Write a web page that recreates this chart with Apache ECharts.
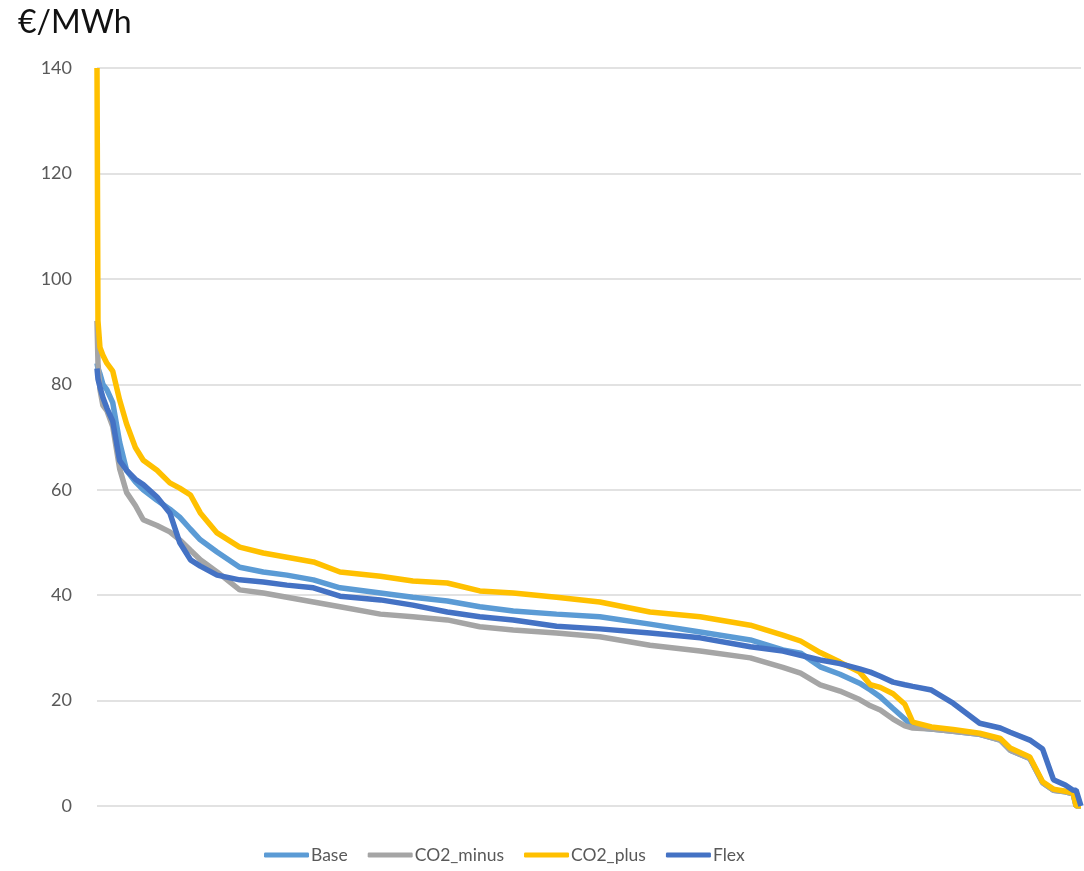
<!DOCTYPE html>
<html>
<head>
<meta charset="utf-8">
<script src="https://cdn.jsdelivr.net/npm/echarts@6/dist/echarts.min.js"></script>
<style>html,body{margin:0;padding:0;background:#fff}#c{width:1084px;height:871px}</style>
</head>
<body>
<div id="c"></div>
<script>
// Share of hours (%), sorted by price (duration curve)
const duration = [0,0.1,0.3,0.6,1.0,1.6,2.3,3.0,3.9,4.7,6.1,7.4,8.4,9.5,10.5,12.2,14.5,16.9,19.3,22.0,24.7,28.8,32.1,35.6,38.9,42.3,46.7,51.1,56.2,61.3,66.4,69.7,71.5,73.5,75.5,77.5,78.6,79.6,80.9,82.1,82.9,84.8,87.0,89.7,91.8,92.8,94.8,96.1,97.2,98.4,99.2,99.5,100];
const seriesNames = ['Base','CO2_minus','CO2_plus','Flex'];
const base = [84,83,82,80,79,76.5,69,63.7,61.5,60,58,56.3,54.8,52.5,50.5,48.2,45.3,44.4,43.8,42.9,41.4,40.4,39.6,38.9,37.8,37,36.4,35.9,34.5,33,31.5,29.6,29,26.4,25,23.3,22,20.7,18.5,16.5,15,14.6,14.2,13.6,12.5,10.6,9,4.4,3,2.7,2.3,0,0];
const co2Minus = [92,84,79,76,75,72,64,59.5,57,54.3,53.2,52,50.5,48.5,46.7,44.4,41,40.4,39.6,38.7,37.8,36.4,35.9,35.3,34,33.4,32.8,32.1,30.5,29.4,28.1,26.3,25.2,23,21.8,20.2,19,18.2,16.5,15.2,14.8,14.6,14.2,13.6,12.5,10.6,9,4.4,3,2.7,2.3,0,0];
const co2Plus = [140,92,87,85.5,84,82.5,77,72.5,68,65.6,63.7,61.3,60.3,59,55.6,51.8,49.1,48,47.2,46.3,44.4,43.6,42.7,42.3,40.8,40.4,39.6,38.7,36.8,35.9,34.3,32.4,31.3,29.1,27.3,25.4,23,22.5,21.3,19.3,15.9,15,14.5,13.8,12.8,11,9.3,4.6,3.2,2.8,2.5,0,0];
const flex = [83,81,79.5,77.5,75.5,73,65.5,63.7,62,61,58.6,55.6,50,46.7,45.5,43.8,42.9,42.5,41.9,41.4,39.8,39.1,38.1,36.8,35.9,35.3,34.1,33.6,32.8,31.9,30.2,29.4,28.6,27.7,27,26,25.4,24.6,23.5,23,22.7,22,19.5,15.7,14.8,14,12.5,10.8,5,4,3,3,0];
const yTicks = [0,20,40,60,80,100,120,140];
const colors = ['#5B9BD5','#A5A5A5','#FFC000','#4472C4'];

const values = [base, co2Minus, co2Plus, flex];
const chart = echarts.init(document.getElementById('c'));
chart.setOption({
  animation: false,
  textStyle: {fontFamily: 'Lato, "Noto Sans", sans-serif'},
  title: {text: '€/MWh', left: 13, top: 2, textStyle: {fontSize: 32, fontWeight: 'normal', color: '#111', fontFamily: 'Lato, "Noto Sans", sans-serif'}},
  grid: {left: 97, right: 3, top: 68, bottom: 65},
  legend: {
    data: seriesNames, bottom: 2, left: 259, itemGap: 20,
    icon: 'roundRect', itemWidth: 45, itemHeight: 5,
    textStyle: {fontSize: 17.5, color: '#595959', padding: [0,0,0,-3]}
  },
  xAxis: {type: 'value', min: 0, max: 100, show: true, axisLine: {show: false}, axisTick: {show: false}, axisLabel: {show: false}, splitLine: {show: false}},
  yAxis: {type: 'value', min: yTicks[0], max: yTicks[yTicks.length-1], interval: 20,
    axisLine: {show: false}, axisTick: {show: false},
    axisLabel: {fontSize: 18, color: '#595959', margin: 25},
    splitLine: {lineStyle: {color: '#D9D9D9', width: 1.5}}},
  series: seriesNames.map((n, i) => ({
    name: n, type: 'line', showSymbol: false, symbol: 'none',
    data: duration.map((d, k) => [d, values[i][k]]),
    lineStyle: {color: colors[i], width: 5.5}, itemStyle: {color: colors[i]}
  }))
});
</script>
</body>
</html>
